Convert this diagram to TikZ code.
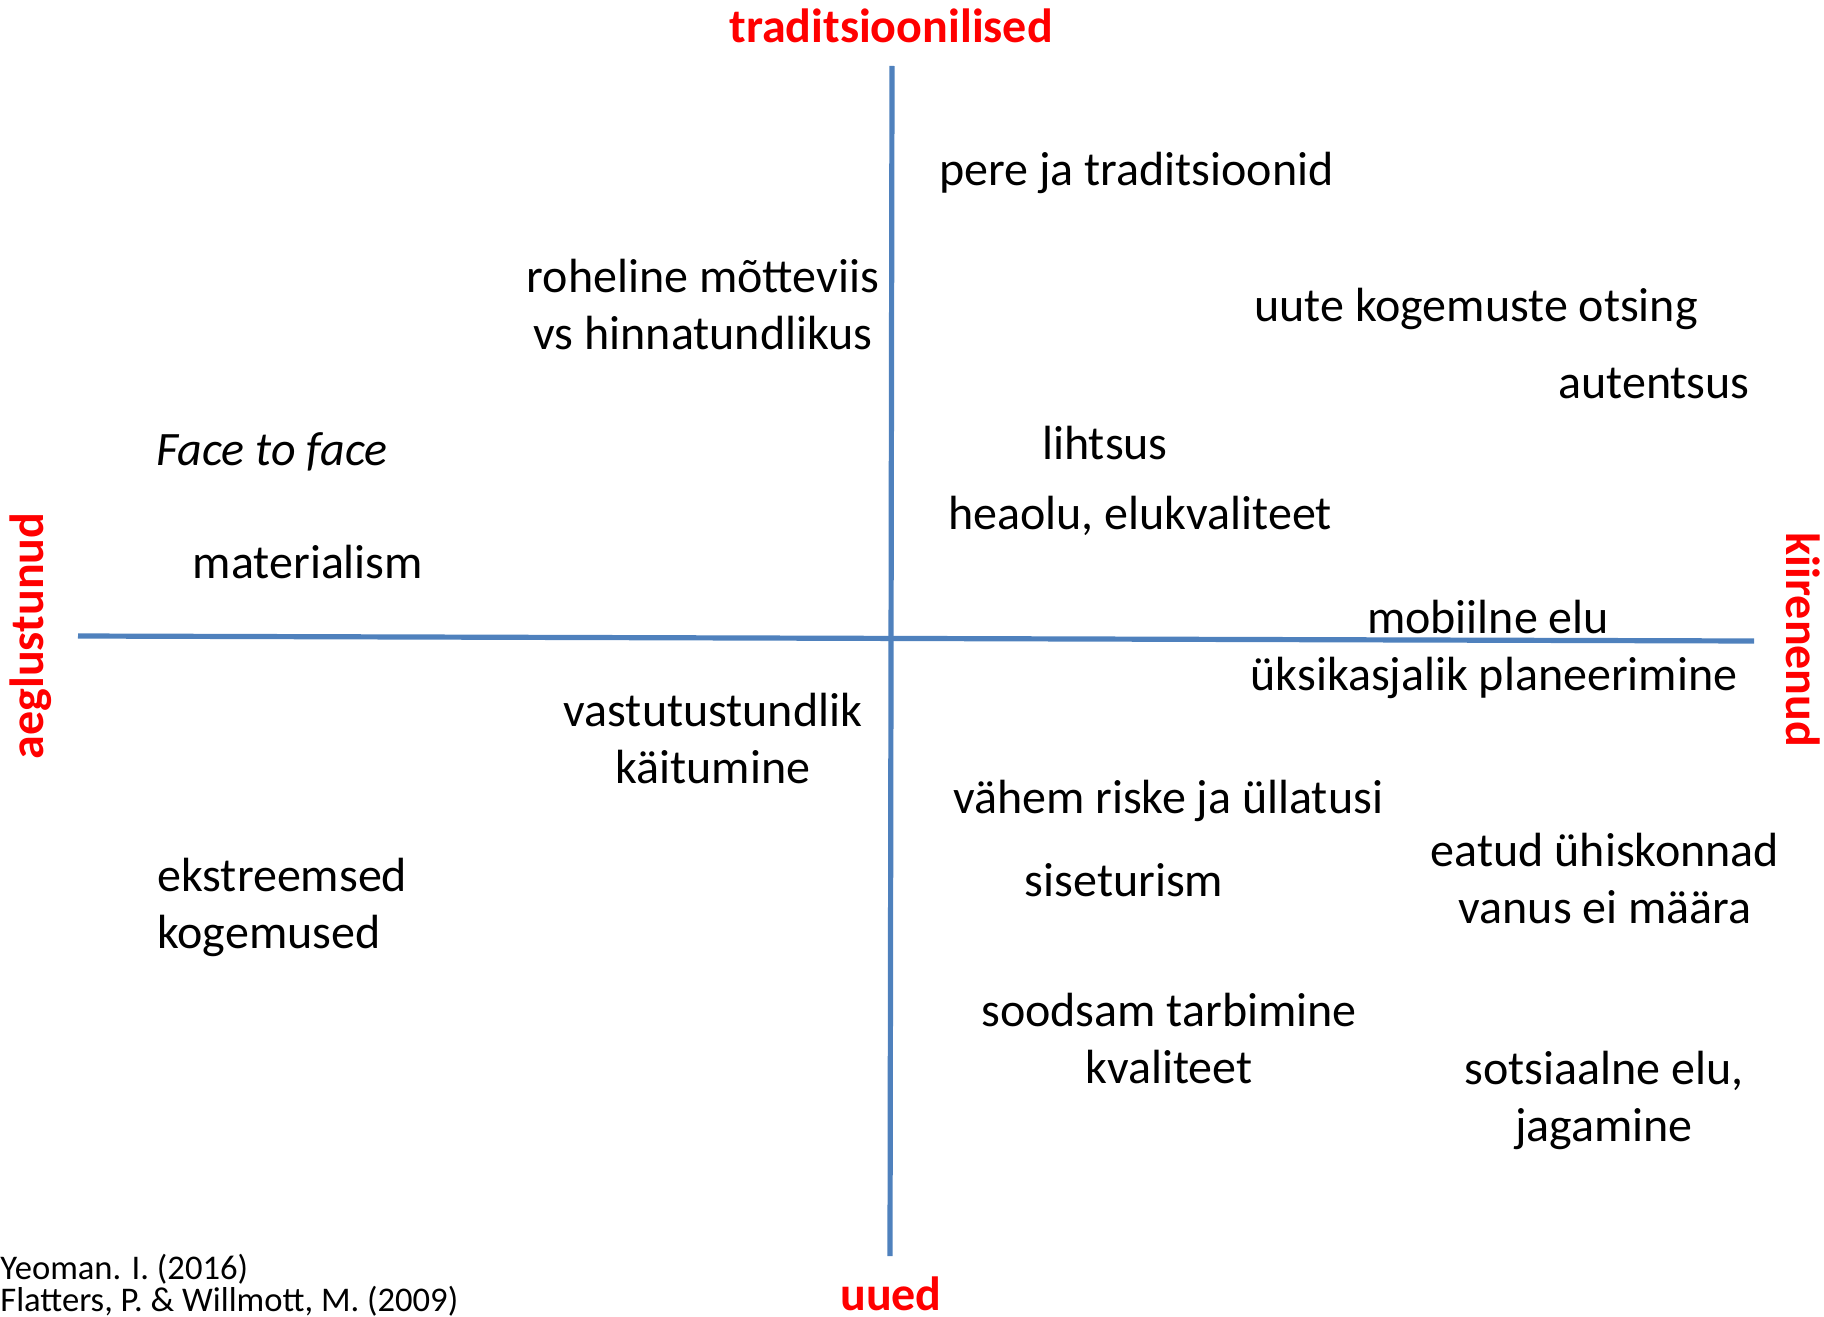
\documentclass[tikz,border=0pt]{standalone}
\usepackage{fontspec}
\setmainfont{Carlito}
\usetikzlibrary{positioning}
\definecolor{axisblue}{RGB}{79,129,189}
\tikzstyle{item} = [inner sep=0pt, font=\fontsize{24}{28.5}\selectfont, align=center]
\tikzstyle{pole} = [inner sep=0pt, text=red, font=\fontsize{24}{28}\selectfont\bfseries]
\tikzstyle{axis} = [draw=axisblue, line width=2.6pt]

\begin{document}
\begin{tikzpicture}[x=0.5pt,y=-0.5pt]
  \useasboundingbox (0,0) rectangle (1824,1316);
  % axes
  \coordinate (top) at (892,66);
  \coordinate (bottom) at (890,1256);
  \coordinate (left) at (78,636);
  \coordinate (right) at (1754,641);
  \draw[axis] (left) -- (right);
  \draw[axis] (top) -- (bottom);
  % poles
  \node[pole] (trad) at (891,26) {traditsioonilised};
  \node[pole] (uued) at (891,1294) {uued};
  \node[pole, rotate=90] (aegl) at (31,636) {aeglustunud};
  \node[pole, rotate=-90] (kiir) at (1803,640) {kiirenenud};
  % upper left
  \node[item] (roheline) at (703,305) {roheline mõtteviis\\vs hinnatundlikus};
  \node[item] (face) at (272,452) {\itshape Face to face};
  \node[item] (material) at (308,562) {materialism};
  % upper right
  \node[item, anchor=west] (pere) at (939,173) {pere ja traditsioonid};
  \node[item, anchor=west] (uute) at (1254,309) {uute kogemuste otsing};
  \node[item] (autent) at (1654,383) {autentsus};
  \node[item] (lihtsus) at (1105,443) {lihtsus};
  \node[item] (heaolu) at (1140,516) {heaolu, elukvaliteet};
  \node[item] (mobiil) at (1488,617) {mobiilne elu};
  % lower right
  \node[item] (uksik) at (1494,678) {üksikasjalik planeerimine};
  \node[item] (vahem) at (1168,801) {vähem riske ja üllatusi};
  \node[item] (siseturism) at (1124,880) {siseturism};
  \node[item] (eatud) at (1605,879) {eatud ühiskonnad\\vanus ei määra};
  \node[item] (soodsam) at (1169,1038) {soodsam tarbimine\\kvaliteet};
  \node[item] (sots) at (1604,1100) {sotsiaalne elu,\\jagamine};
  % lower left
  \node[item] (vastut) at (713,739) {vastutustundlik\\käitumine};
  \node[item, align=left, anchor=west] (ekstr) at (157,907) {ekstreemsed\\kogemused};
  % source
  \node[inner sep=0pt, anchor=west, align=left, font=\fontsize{17.3}{15.8}\selectfont] (source) at (0,1285) {Yeoman. I. (2016)\\Flatters, P. \& Willmott, M. (2009)};
\end{tikzpicture}
\end{document}
